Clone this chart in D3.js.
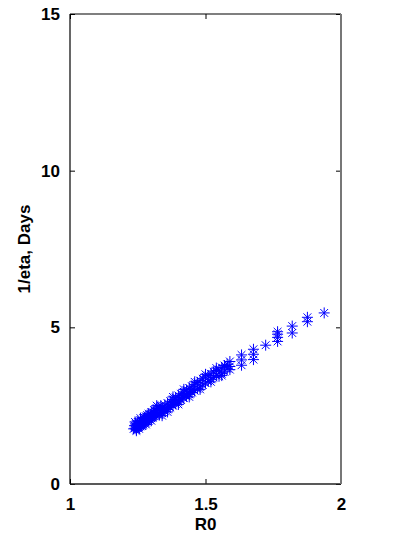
<!DOCTYPE html>
<html>
<head>
<meta charset="utf-8">
<script src="https://cdn.jsdelivr.net/npm/d3@7"></script>
<style>
  html, body { margin: 0; padding: 0; background: #fff; }
  svg { display: block; }
  text { font-family: "Liberation Sans", Arial, sans-serif; font-weight: bold; fill: #000; }
</style>
</head>
<body>
<svg id="chart" width="413" height="553"></svg>
<script>
// ---- data ----
const xTicks = [1, 1.5, 2];
const yTicks = [0, 5, 10, 15];
const xLabel = "R0";
const yLabel = "1/eta, Days";

const r0 = [
  1.235, 1.238, 1.240, 1.242, 1.245, 1.245, 1.248, 1.250, 1.250, 1.252,
  1.255, 1.255, 1.258, 1.260, 1.260, 1.262, 1.265, 1.265, 1.268, 1.270,
  1.270, 1.272, 1.275, 1.275, 1.278, 1.280, 1.280, 1.283, 1.285, 1.285,
  1.288, 1.290, 1.290, 1.293, 1.295, 1.298, 1.300, 1.300, 1.303, 1.305,
  1.308, 1.310, 1.310, 1.313, 1.315, 1.318, 1.320, 1.320, 1.325, 1.325,
  1.330, 1.330, 1.335, 1.335, 1.340, 1.340, 1.345, 1.350, 1.350, 1.355,
  1.360, 1.360, 1.365, 1.370, 1.370, 1.375, 1.380, 1.380, 1.385, 1.390,
  1.390, 1.395, 1.400, 1.400, 1.405, 1.410, 1.410, 1.415, 1.420, 1.420,
  1.425, 1.430, 1.430, 1.435, 1.440, 1.440, 1.445, 1.450, 1.450, 1.455,
  1.460, 1.460, 1.470, 1.470, 1.480, 1.480, 1.490, 1.490, 1.500, 1.500,
  1.510, 1.510, 1.520, 1.520, 1.530, 1.530, 1.540, 1.540, 1.550, 1.550,
  1.560, 1.560, 1.570, 1.570, 1.580, 1.590, 1.590, 1.590, 1.633, 1.633,
  1.633, 1.677, 1.677, 1.677, 1.722, 1.766, 1.766, 1.766, 1.766, 1.820,
  1.820, 1.876, 1.876, 1.938,
  1.360, 1.380, 1.400, 1.420, 1.440, 1.460, 1.480, 1.500, 1.520, 1.540,
  1.560, 1.580, 1.300, 1.320, 1.340, 1.280, 1.260, 1.240, 1.245, 1.255
];
const invEta = [
  1.76, 1.86, 1.78, 1.92, 1.82, 1.74, 1.90, 1.80, 1.98, 1.86,
  1.82, 1.96, 1.88, 1.84, 2.04, 1.94, 1.86, 2.02, 1.96, 1.90,
  2.10, 2.00, 1.94, 2.12, 2.04, 1.96, 2.16, 2.08, 2.00, 2.20,
  2.10, 2.02, 2.24, 2.14, 2.06, 2.22, 2.10, 2.30, 2.18, 2.12,
  2.28, 2.16, 2.36, 2.24, 2.18, 2.34, 2.22, 2.42, 2.28, 2.46,
  2.20, 2.38, 2.30, 2.50, 2.26, 2.44, 2.36, 2.32, 2.52, 2.42,
  2.38, 2.58, 2.48, 2.44, 2.64, 2.54, 2.50, 2.70, 2.60, 2.56,
  2.76, 2.66, 2.62, 2.82, 2.72, 2.68, 2.88, 2.78, 2.74, 2.94,
  2.84, 2.80, 3.00, 2.90, 2.86, 3.06, 2.96, 2.92, 3.12, 3.02,
  2.98, 3.18, 3.04, 3.24, 3.10, 3.30, 3.16, 3.36, 3.22, 3.42,
  3.28, 3.46, 3.34, 3.52, 3.40, 3.58, 3.46, 3.62, 3.44, 3.64,
  3.52, 3.72, 3.58, 3.78, 3.68, 3.65, 3.75, 3.91, 3.79, 3.96,
  4.12, 3.97, 4.14, 4.30, 4.43, 4.55, 4.68, 4.78, 4.86, 4.82,
  5.04, 5.18, 5.32, 5.46,
  2.30, 2.78, 2.54, 3.02, 2.78, 3.26, 3.02, 3.50, 3.26, 3.70,
  3.46, 3.82, 2.02, 2.50, 2.18, 1.90, 2.10, 1.98, 1.70, 1.76
];

// ---- layout ----
const plot = { left: 70, right: 341, top: 14, bottom: 484 };
const svg = d3.select("#chart");

const x = d3.scaleLinear().domain([1, 2]).range([plot.left, plot.right]);
const y = d3.scaleLinear().domain([0, 15]).range([plot.bottom, plot.top]);

const pts = r0.map((v, i) => ({ r: v, e: invEta[i] }));

// markers (MATLAB '*' : 8-arm asterisk)
const R = 5.5, D = R * Math.SQRT1_2;
const star = `M${-R},0L${R},0M0,${-R}L0,${R}M${-D},${-D}L${D},${D}M${-D},${D}L${D},${-D}`;
svg.append("g")
  .selectAll("path")
  .data(pts)
  .join("path")
  .attr("transform", d => `translate(${x(d.r)},${y(d.e)})`)
  .attr("d", star)
  .attr("fill", "none")
  .attr("stroke", "#0000ff")
  .attr("stroke-width", 1);

// axes with inward ticks, mirrored box
const tickLen = -5;
const gx = svg.append("g").attr("transform", `translate(0,${plot.bottom})`)
  .call(d3.axisBottom(x).tickValues(xTicks).tickSize(tickLen).tickPadding(14).tickFormat(d3.format("")));
const gxTop = svg.append("g").attr("transform", `translate(0,${plot.top})`)
  .call(d3.axisTop(x).tickValues(xTicks).tickSize(tickLen).tickFormat(""));
const gy = svg.append("g").attr("transform", `translate(${plot.left},0)`)
  .call(d3.axisLeft(y).tickValues(yTicks).tickSize(tickLen).tickPadding(10).tickFormat(d3.format("")));
const gyR = svg.append("g").attr("transform", `translate(${plot.right},0)`)
  .call(d3.axisRight(y).tickValues(yTicks).tickSize(tickLen).tickFormat(""));

[gx, gxTop, gy, gyR].forEach(g => {
  g.select(".domain").remove();
  g.selectAll(".tick line").attr("stroke", "#000").attr("stroke-width", 1);
  g.selectAll("text").attr("font-size", 17).attr("font-weight", "bold")
    .attr("font-family", "Liberation Sans, Arial, sans-serif").attr("fill", "#000");
});

// box
svg.append("line").attr("x1", plot.left).attr("x2", plot.right).attr("y1", plot.top).attr("y2", plot.top)
  .attr("stroke", "#000").attr("stroke-width", 1.2);
svg.append("line").attr("x1", plot.left).attr("x2", plot.right).attr("y1", plot.bottom).attr("y2", plot.bottom)
  .attr("stroke", "#222").attr("stroke-width", 1.5);
svg.append("line").attr("x1", plot.left).attr("x2", plot.left).attr("y1", plot.top).attr("y2", plot.bottom)
  .attr("stroke", "#000").attr("stroke-width", 1.2);
svg.append("line").attr("x1", plot.right).attr("x2", plot.right).attr("y1", plot.top).attr("y2", plot.bottom)
  .attr("stroke", "#777").attr("stroke-width", 2);

// axis labels
svg.append("text")
  .attr("x", (plot.left + plot.right) / 2).attr("y", 530)
  .attr("text-anchor", "middle").attr("font-size", 17)
  .text(xLabel);
svg.append("text")
  .attr("transform", `translate(30,${(plot.top + plot.bottom) / 2}) rotate(-90)`)
  .attr("text-anchor", "middle").attr("font-size", 17)
  .text(yLabel);
</script>
</body>
</html>
